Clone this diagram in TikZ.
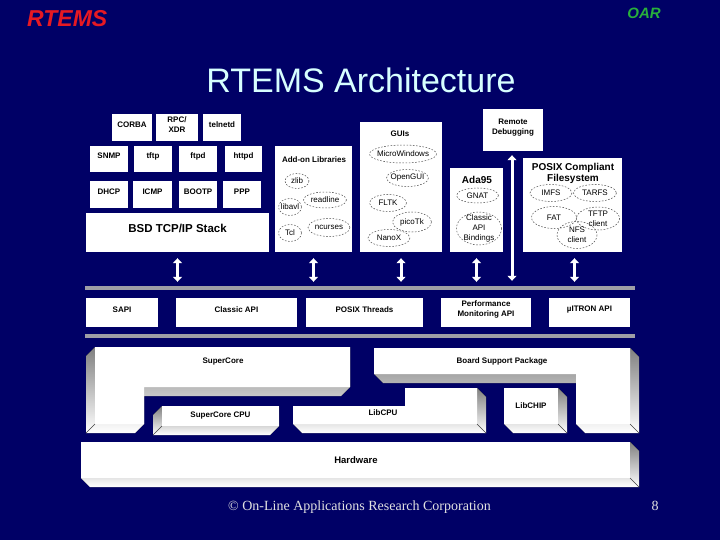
\documentclass[tikz,border=0pt]{standalone}
\usepackage{fontspec}
\setmainfont{Liberation Sans}
\newfontfamily\seriffont{Liberation Serif}
\usetikzlibrary{arrows.meta,fit}
\definecolor{navy}{RGB}{0,0,102}
\definecolor{shade}{RGB}{158,158,166}
\definecolor{titlecyan}{RGB}{215,255,255}
\definecolor{rtemsred}{RGB}{230,25,35}
\definecolor{oargreen}{RGB}{40,175,60}
\definecolor{foot}{RGB}{225,225,225}
\tikzset{
  wbox/.style={fill=white, inner sep=0pt, font=\bfseries\fontsize{8}{10}\selectfont, align=center},
  lbl/.style={inner sep=0pt, font=\fontsize{8}{9.7}\selectfont, align=center},
  ttl/.style={inner sep=0pt, font=\bfseries\fontsize{8}{10}\selectfont, align=center},
  bigttl/.style={inner sep=0pt, font=\bfseries\fontsize{10}{10.5}\selectfont, align=center},
  dashell/.style={draw=black!70, dash pattern=on 1.6pt off 1.6pt, line width=0.5pt},
  dbl/.style={white, line width=3pt, {Triangle[width=9pt,length=5pt]}-{Triangle[width=9pt,length=5pt]}},
  edgethreed/.style={draw=black!75, line width=0.5pt},
  bar/.style={fill=shade, inner sep=0pt}
}
\newcommand\mybox[6]{\node[wbox, fit={(#2,#3) (#4,#5)}] (#1) {#6};}
\newcommand\myell[6]{\node[lbl] (#1) at (#2,#3) {#6};
  \draw[dashell] (#1.center) ellipse [x radius=#4, y radius=#5];}
\begin{document}
\begin{tikzpicture}[x=1pt,y=-1pt]
\useasboundingbox (0,0) rectangle (720,540);
\fill[navy] (0,0) rectangle (720,540);

% header
\node[anchor=base west, text=rtemsred, font=\bfseries\itshape\fontsize{23}{23}\selectfont, inner sep=0pt] (rtems) at (27,27) {RTEMS};
\node[anchor=base east, text=oargreen, font=\bfseries\itshape\fontsize{15}{15}\selectfont, inner sep=0pt] (oar) at (661,18.5) {OAR};
\node[anchor=base, text=titlecyan, font=\fontsize{34}{34}\selectfont, inner sep=0pt] (title) at (361,93) {RTEMS Architecture};

% networking
\mybox{corba}{112}{114}{152}{141}{CORBA}
\mybox{rpc}{156}{114}{198}{141}{RPC/\\XDR}
\mybox{telnetd}{203}{114}{241}{141}{telnetd}
\mybox{snmp}{90}{146}{128}{172}{SNMP}
\mybox{tftp}{134}{146}{172}{172}{tftp}
\mybox{ftpd}{179}{146}{217}{172}{ftpd}
\mybox{httpd}{225}{146}{262}{172}{httpd}
\mybox{dhcp}{90}{181}{128}{208}{DHCP}
\mybox{icmp}{133}{181}{172}{208}{ICMP}
\mybox{bootp}{179}{181}{217}{208}{BOOTP}
\mybox{ppp}{223}{181}{261}{208}{PPP}
\node[wbox, font=\bfseries\fontsize{11.5}{12}\selectfont, fit={(86,213) (269,252)}] (tcp) {BSD TCP/IP Stack};

% add-on libraries
\mybox{addon}{275}{146}{352}{252}{}
\node[ttl] (addont) at (314,160) {Add-on Libraries};
\myell{zlib}{297}{181}{12}{7.5}{zlib}
\myell{libavl}{290}{207}{11.5}{8.5}{libavl}
\myell{readline}{325}{200}{21.5}{8}{readline}
\myell{tcl}{290}{233}{11.5}{8.5}{Tcl}
\myell{ncurses}{329}{227.5}{21}{9}{ncurses}

% GUIs
\mybox{guis}{360}{122}{442}{252}{}
\node[ttl] (guist) at (400,134) {GUIs};
\myell{mw}{403}{154}{33.5}{9}{MicroWindows}
\myell{opengui}{407.5}{178}{21}{8.5}{OpenGUI}
\myell{fltk}{388}{203}{18.5}{8.5}{FLTK}
\myell{picotk}{412}{222}{19.5}{10}{picoTk}
\myell{nanox}{389}{238}{21}{8.5}{NanoX}

% Ada95
\mybox{ada}{450}{168}{503}{252}{}
\node[bigttl] (adat) at (477,180) {Ada95};
\myell{gnat}{477.5}{195.5}{21}{7.5}{GNAT}
\myell{cab}{479}{228.5}{22.5}{16.5}{Classic\\API\\Bindings}

% Remote debugging
\mybox{rd}{483}{109}{543}{151}{Remote\\Debugging}

% POSIX filesystem
\mybox{pfs}{523}{158}{622}{252}{}
\node[bigttl] (pfst) at (573,173.5) {POSIX Compliant\\Filesystem};
\myell{imfs}{551}{193}{21}{8.5}{IMFS}
\myell{tarfs}{595}{193}{21.5}{8.5}{TARFS}
\myell{fat}{554}{217.5}{22.5}{11}{FAT}
\myell{tftpc}{598}{218.5}{21.5}{11.5}{TFTP\\client}
\myell{nfs}{577}{235}{20}{13.5}{NFS\\client}

% bars
\node[bar, fit={(85,286) (635,290)}] (bar1) {};
\node[bar, fit={(85,334) (635,338)}] (bar2) {};

% arrows
\draw[dbl] ([yshift=-6pt]tcp.south) -- ([yshift=4pt]tcp.south |- bar1.north);
\draw[dbl] ([yshift=-6pt]addon.south) -- ([yshift=4pt]addon.south |- bar1.north);
\draw[dbl] ([yshift=-6pt]guis.south) -- ([yshift=4pt]guis.south |- bar1.north);
\draw[dbl] ([yshift=-6pt]ada.south) -- ([yshift=4pt]ada.south |- bar1.north);
\draw[dbl] ([yshift=-6pt,xshift=2pt]pfs.south) -- ([yshift=4pt,xshift=2pt]pfs.south |- bar1.north);
\draw[dbl] ([yshift=-4pt,xshift=-1pt]rd.south) -- ([yshift=5pt,xshift=-1pt]rd.south |- bar1.north);

% API row
\mybox{sapi}{86}{298}{158}{327}{SAPI}
\mybox{classic}{176}{298}{297}{327}{Classic API}
\mybox{posixt}{306}{298}{423}{327}{POSIX Threads}
\mybox{perf}{441}{298}{531}{327}{Performance\\Monitoring API}
\mybox{itron}{549}{298}{630}{327}{µITRON API}

% SuperCore
\fill[shade] (95,347) -- (350,347) -- (350,387) -- (341,396) -- (144,396) -- (144,424) -- (135,433) -- (86,433) -- (86,356) -- cycle;
\fill[white] (95,347) -- (350,347) -- (350,387) -- (144,387) -- (144,424) -- (95,424) -- cycle;
\draw[edgethreed] (95,424) -- (86,433);
\node[ttl] (supercore) at (223,362) {SuperCore};

% SuperCore CPU
\fill[shade] (162,406) -- (279,406) -- (279,426) -- (270,435) -- (153,435) -- (153,415) -- cycle;
\fill[white] (162,406) rectangle (279,426);
\draw[edgethreed] (162,426) -- (153,435);
\node[ttl] (sccpu) at (220.5,416) {SuperCore CPU};

% LibCPU
\fill[shade] (293,406) -- (405,406) -- (405,388) -- (477,388) -- (486,397) -- (486,433) -- (302,433) -- (293,424) -- cycle;
\fill[white] (293,406) -- (405,406) -- (405,388) -- (477,388) -- (477,424) -- (293,424) -- cycle;
\draw[edgethreed] (477,424) -- (486,433);
\node[ttl] (libcpu) at (383,413) {LibCPU};

% LibCHIP
\fill[shade] (504,388) -- (558,388) -- (567,397) -- (567,433) -- (513,433) -- (504,424) -- cycle;
\fill[white] (504,388) rectangle (558,424);
\draw[edgethreed] (558,424) -- (567,433);
\node[ttl] (libchip) at (531,406) {LibCHIP};

% Board Support Package
\fill[shade] (374,348) -- (630,348) -- (639,357) -- (639,433) -- (585,433) -- (576,424) -- (576,383) -- (383,383) -- (374,374) -- cycle;
\fill[white] (374,348) -- (630,348) -- (630,424) -- (576,424) -- (576,374) -- (374,374) -- cycle;
\draw[edgethreed] (630,424) -- (639,433);
\node[ttl] (bsp) at (502,361) {Board Support Package};

% Hardware
\fill[shade] (81,442) -- (630,442) -- (639,451) -- (639,487) -- (90,487) -- (81,478) -- cycle;
\fill[white] (81,442) rectangle (630,478);
\draw[edgethreed] (630,478) -- (639,487);
\node[inner sep=0pt, font=\bfseries\fontsize{9.5}{10}\selectfont] (hw) at (356,460) {Hardware};

% footer
\node[anchor=base, text=foot, font=\seriffont\fontsize{14}{14}\selectfont, inner sep=0pt] (copy) at (359.5,510) {© On-Line Applications Research Corporation};
\node[anchor=base, text=foot, font=\seriffont\fontsize{14}{14}\selectfont, inner sep=0pt] (pageno) at (655,510) {8};
\end{tikzpicture}
\end{document}
